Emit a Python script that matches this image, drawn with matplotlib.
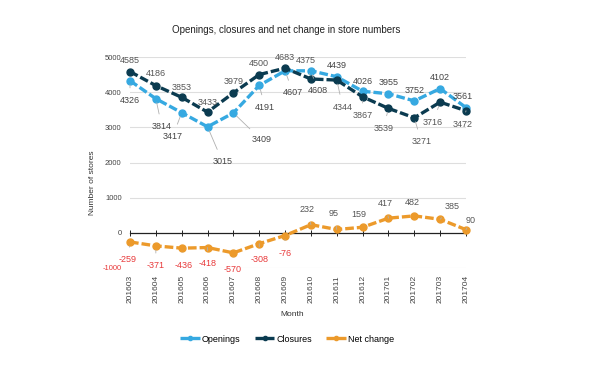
import matplotlib.pyplot as plt
import numpy as np

months = ['201603', '201604', '201605', '201606', '201607', '201608', '201609',
          '201610', '201611', '201612', '201701', '201702', '201703', '201704']
openings = [4326, 3814, 3417, 3015, 3409, 4191, 4607, 4608, 4439, 4026, 3955, 3752, 4102, 3561]
closures = [4585, 4186, 3853, 3433, 3979, 4500, 4683, 4375, 4344, 3867, 3539, 3271, 3716, 3472]
net_change = [-259, -371, -436, -418, -570, -308, -76, 232, 95, 159, 417, 482, 385, 90]

# label offsets in pixels (dx, dy)
open_off = [(0, -20), (6, -28), (-9, -24), (15, -35), (28, -27), (6, -22), (8, -22),
            (7, -20), (0, 11), (0, 10), (0, 11), (0, 10), (0, 11), (-3, 11)]
close_off = [(0, 11), (0, 12), (0, 10), (0, 10), (0, 11), (0, 11), (0, 11),
             (-5, 18), (6, -27), (0, -19), (-5, -20), (7, -24), (-7, -20), (-3, -14)]
net_off = [(-2, -18), (0, -20), (2, -17), (0, -16), (-1, -17), (0, -16), (0, -18),
           (-4, 15), (-3, 16), (-4, 13), (-3, 15), (-2, 13), (12, 13), (5, 9)]

plt.rcParams['font.family'] = ['Liberation Sans', 'DejaVu Sans']

c_open = '#36a9e1'
c_close = '#0b3b50'
c_net = '#ec9a2b'
c_red = '#e8393a'
c_txt = '#555555'

fig = plt.figure(figsize=(6, 3.85), dpi=100)
ax = fig.add_axes([130 / 600, 1 - 268 / 385, 336 / 600, 211 / 385])

x = np.arange(len(months))
dash = (0, (2.6, 0.9))
for vals, col, name in [(openings, c_open, 'Openings'),
                        (closures, c_close, 'Closures'),
                        (net_change, c_net, 'Net change')]:
    ax.plot(x, vals, color=col, lw=2.4, ls=dash, marker='o', ms=5,
            label=name, clip_on=False, zorder=3)


def put_labels(vals, offs, colfn):
    for i, (v, (dx, dy)) in enumerate(zip(vals, offs)):
        far = abs(dy) > 13 or abs(dx) > 4
        ax.annotate(str(v), (x[i], v), xytext=(dx * 0.72, dy * 0.72),
                    textcoords='offset points', ha='center', va='center',
                    fontsize=6.5, color=colfn(v), zorder=4,
                    arrowprops=dict(arrowstyle='-', color='#b0b0b0', lw=0.6,
                                    shrinkA=4, shrinkB=3) if far else None)


put_labels(openings, open_off, lambda v: '#444444')
put_labels(closures, close_off, lambda v: c_txt)
put_labels(net_change, net_off, lambda v: c_red if v < 0 else c_txt)

ax.set_xlim(0, len(months) - 1)
ax.set_ylim(-1000, 5000)
yt = np.arange(-1000, 5001, 1000)
ax.set_yticks(yt)
ax.set_yticklabels([str(t) for t in yt], fontsize=5.5, color='#444444')
ax.get_yticklabels()[0].set_color(c_red)
ax.tick_params(axis='y', length=0, pad=6)
for t in yt:
    if t != 0:
        ax.axhline(t, color='#dedede', lw=0.8, zorder=1)

for s in ['top', 'right', 'left']:
    ax.spines[s].set_visible(False)
ax.spines['bottom'].set_position(('data', 0))
ax.spines['bottom'].set_color('#222222')
ax.spines['bottom'].set_linewidth(0.9)
ax.spines['bottom'].set_zorder(2)
ax.set_xticks(x)
ax.tick_params(axis='x', direction='inout', length=5, width=0.7,
               color='#222222', labelbottom=False)

sec = ax.secondary_xaxis(0)
sec.set_xticks(x)
sec.set_xticklabels(months, rotation=90, fontsize=6, color='#444444')
sec.tick_params(length=0, pad=5)
sec.spines['bottom'].set_visible(False)

fig.text(286 / 600, 1 - 30 / 385, 'Openings, closures and net change in store numbers',
         ha='center', va='center', fontsize=7, color='#222222')
fig.text(292 / 600, 1 - 315 / 385, 'Month', ha='center', va='center',
         fontsize=6, color='#333333')
fig.text(93 / 600, 1 - 183 / 385, 'Number of stores', ha='center', va='center',
         rotation=90, fontsize=6, color='#333333')

fig.legend(loc='center', bbox_to_anchor=(287 / 600, 1 - 339 / 385), ncol=3,
           frameon=False, fontsize=6.5, handlelength=2.2, handletextpad=0.2,
           columnspacing=1.6, markerscale=0.6)

fig.savefig('out.png', dpi=100)
